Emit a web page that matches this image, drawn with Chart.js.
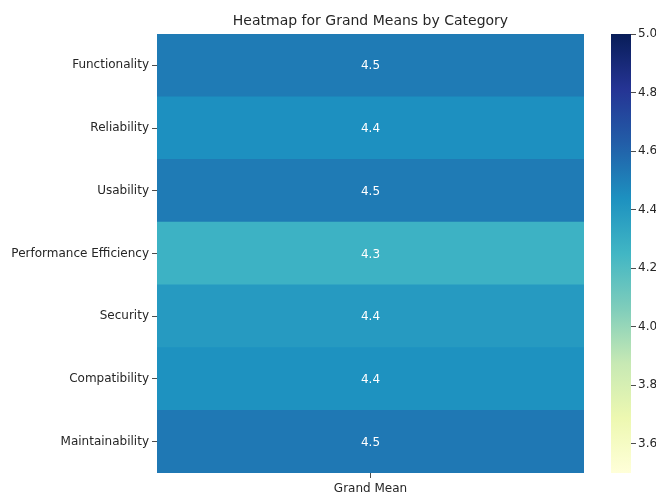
<!DOCTYPE html>
<html>
<head>
<meta charset="utf-8">
<script src="https://cdn.jsdelivr.net/npm/chart.js@4.4.1/dist/chart.umd.min.js"></script>
<style>
  html, body { margin: 0; padding: 0; background: #fff; }
  #wrap { position: relative; width: 656px; height: 495px; }
  #heat { position: absolute; left: 0; top: 0; }
  #bar { position: absolute; left: 580px; top: 0; }
</style>
</head>
<body>
<div id="wrap">
  <canvas id="heat" width="600" height="495"></canvas>
  <canvas id="bar" width="76" height="495"></canvas>
</div>
<script>
  // values (cell colour + rounded annotation)
  const categories = ['Functionality', 'Reliability', 'Usability', 'Performance Efficiency',
    'Security', 'Compatibility', 'Maintainability'];
  const grandMeans = [4.52, 4.44, 4.52, 4.27, 4.39, 4.43, 4.53];
  const columnLabel = 'Grand Mean';
  const colorbarTicks = [3.6, 3.8, 4.0, 4.2, 4.4, 4.6, 4.8, 5.0];
  const vmin = 3.5, vmax = 5.0;

  const FONT = 'DejaVu Sans';
  const TEXT = '#262626';
  const TICK = '#4d4d4d';
  const TITLE = 'Heatmap for Grand Means by Category';

  // matplotlib YlGnBu
  const YLGNBU = ['#ffffd9', '#edf8b1', '#c7e9b4', '#7fcdbb', '#41b6c4',
    '#1d91c0', '#225ea8', '#253494', '#081d58'];

  function hexRgb(h) {
    return [1, 3, 5].map(i => parseInt(h.slice(i, i + 2), 16));
  }

  function cmap(v) {
    let t = (v - vmin) / (vmax - vmin);
    t = Math.max(0, Math.min(1, t)) * (YLGNBU.length - 1);
    const i = Math.min(Math.floor(t), YLGNBU.length - 2);
    const f = t - i;
    const a = hexRgb(YLGNBU[i]), b = hexRgb(YLGNBU[i + 1]);
    const c = a.map((x, k) => Math.round(x + (b[k] - x) * f));
    return `rgb(${c[0]}, ${c[1]}, ${c[2]})`;
  }

  // cell annotations + title centred over the plot area
  const annotate = {
    id: 'annotate',
    afterDatasetsDraw(chart) {
      const ctx = chart.ctx;
      const meta = chart.getDatasetMeta(0);
      const area = chart.chartArea;
      ctx.save();
      ctx.fillStyle = '#ffffff';
      ctx.font = `12px "${FONT}"`;
      ctx.textAlign = 'center';
      ctx.textBaseline = 'middle';
      meta.data.forEach((el, i) => {
        const p = el.getProps(['x', 'y', 'base'], true);
        ctx.fillText(grandMeans[i].toFixed(1), (p.x + p.base) / 2, p.y + 1);
      });
      ctx.fillStyle = TEXT;
      ctx.font = `14px "${FONT}"`;
      ctx.textBaseline = 'alphabetic';
      ctx.fillText(TITLE, (area.left + area.right) / 2, area.top - 9);
      ctx.restore();
    }
  };

  new Chart(document.getElementById('heat'), {
    type: 'bar',
    data: {
      labels: categories,
      datasets: [{
        data: grandMeans.map(() => [0, 1]),
        backgroundColor: grandMeans.map(cmap),
        borderWidth: 0,
        barPercentage: 1,
        categoryPercentage: 1
      }]
    },
    options: {
      indexAxis: 'y',
      responsive: false,
      animation: false,
      layout: { padding: { top: 34, right: 16, bottom: 0, left: 0 } },
      plugins: {
        legend: { display: false },
        tooltip: { enabled: false },
        title: { display: false }
      },
      scales: {
        x: {
          type: 'linear',
          min: 0, max: 1,
          border: { display: false },
          grid: { drawOnChartArea: false, drawTicks: true, tickLength: 5, color: TICK },
          afterBuildTicks: (axis) => { axis.ticks = [{ value: 0.5 }]; },
          afterFit: (axis) => { axis.height = 22; },
          ticks: {
            color: TEXT,
            padding: 4,
            font: { family: FONT, size: 12 },
            callback: () => columnLabel
          }
        },
        y: {
          type: 'category',
          border: { display: false },
          grid: { drawOnChartArea: false, drawTicks: true, tickLength: 5, color: TICK, offset: false },
          afterFit: (axis) => { axis.width = 157; },
          ticks: {
            color: TEXT,
            padding: 3,
            font: { family: FONT, size: 12 }
          }
        }
      }
    },
    plugins: [annotate]
  });

  // colour bar
  new Chart(document.getElementById('bar'), {
    type: 'bar',
    data: {
      labels: [''],
      datasets: [{
        data: [[vmin, vmax]],
        backgroundColor: (c) => {
          const area = c.chart.chartArea;
          if (!area) return YLGNBU[4];
          const y = c.chart.scales.y;
          const g = c.chart.ctx.createLinearGradient(0, y.getPixelForValue(vmin), 0, y.getPixelForValue(vmax));
          YLGNBU.forEach((col, i) => g.addColorStop(i / (YLGNBU.length - 1), col));
          return g;
        },
        borderWidth: 0,
        barPercentage: 1,
        categoryPercentage: 1
      }]
    },
    options: {
      responsive: false,
      animation: false,
      layout: { padding: { top: 34, right: 0, bottom: 22, left: 31 } },
      plugins: { legend: { display: false }, tooltip: { enabled: false } },
      scales: {
        x: { display: false },
        y: {
          type: 'linear',
          position: 'right',
          min: vmin, max: vmax,
          border: { display: false },
          grid: { drawOnChartArea: false, drawTicks: true, tickLength: 5, color: TICK },
          afterBuildTicks: (axis) => { axis.ticks = colorbarTicks.map(v => ({ value: v })); },
          afterFit: (axis) => { axis.width = 25; },
          ticks: {
            color: TEXT,
            padding: 2,
            font: { family: FONT, size: 12 },
            callback: (v) => Number(v).toFixed(1)
          }
        }
      }
    }
  });
</script>
</body>
</html>
